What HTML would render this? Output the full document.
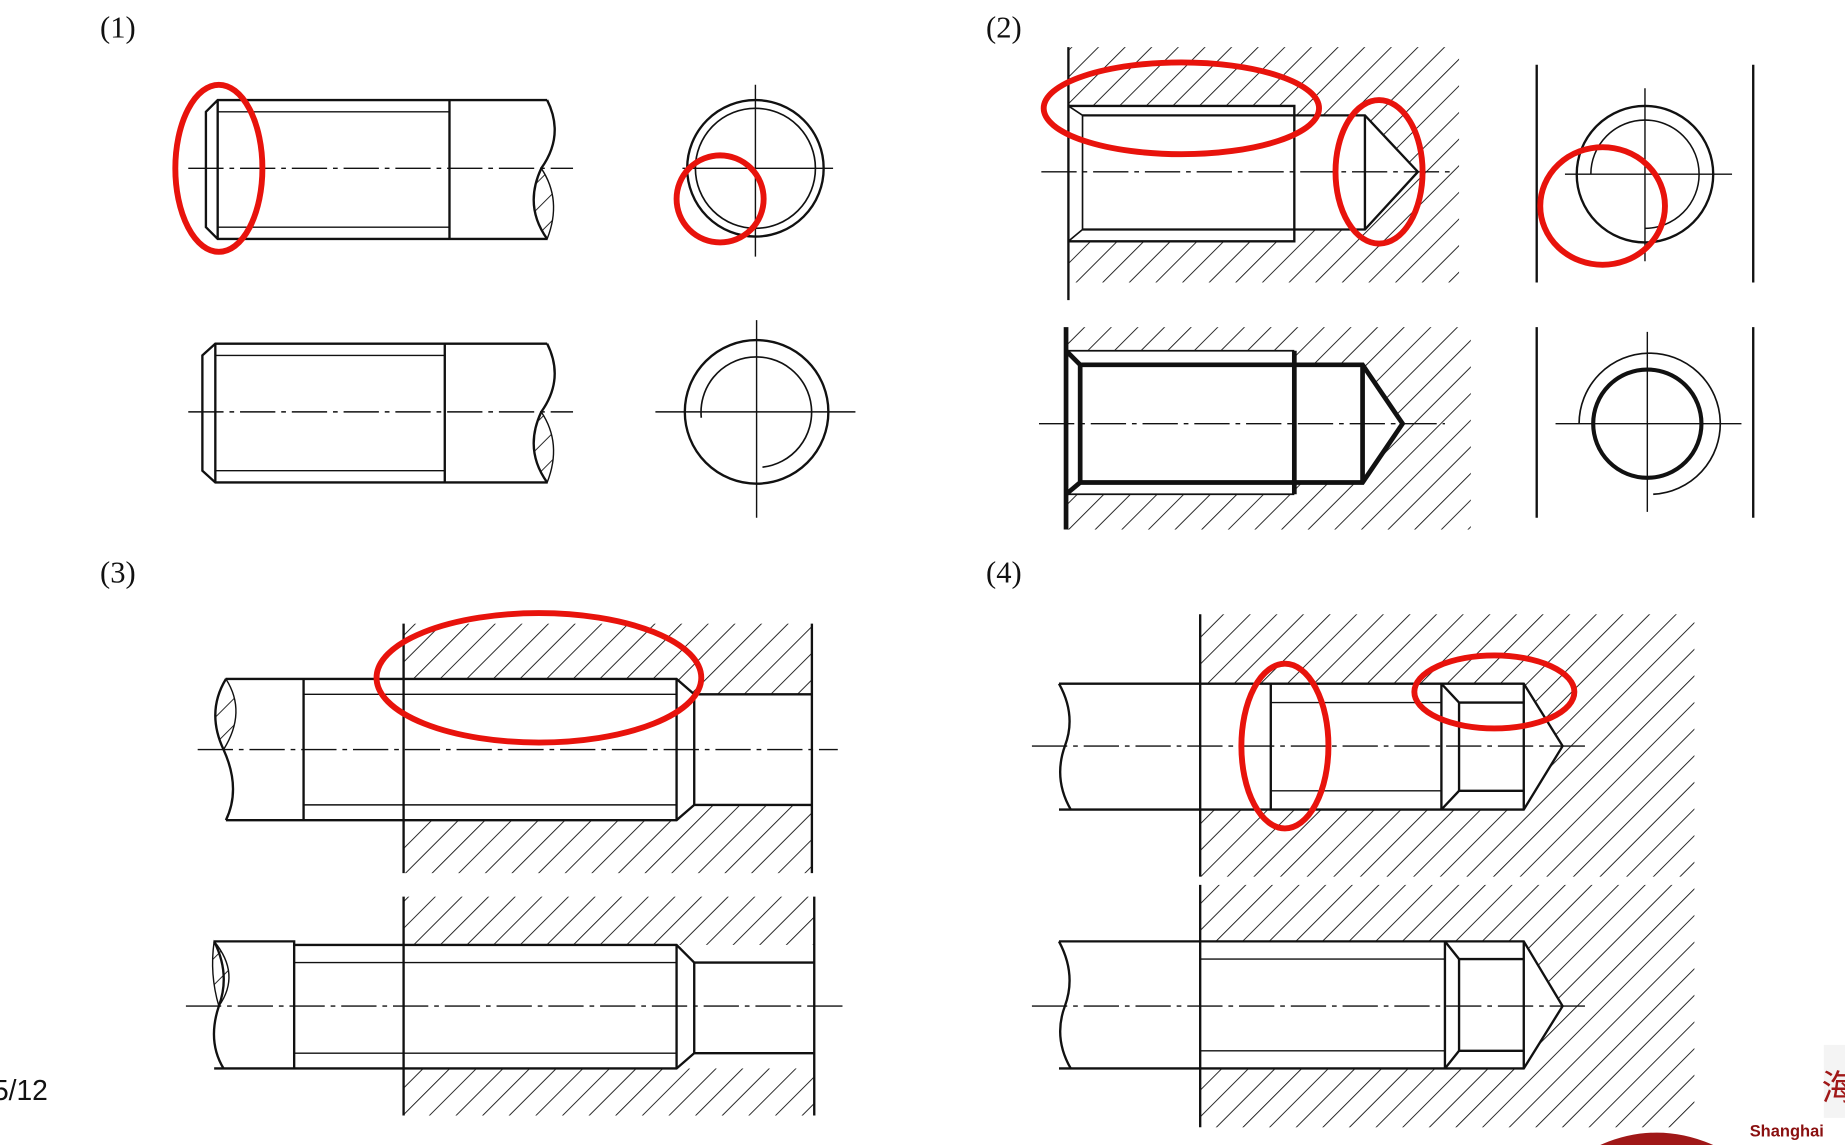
<!DOCTYPE html>
<html><head><meta charset="utf-8"><style>
html,body{margin:0;padding:0;background:#fff;}
svg{display:block;}
text{font-family:"Liberation Serif",serif;}
</style></head><body>
<svg width="1845" height="1145" viewBox="0 0 1568 973" xmlns="http://www.w3.org/2000/svg">
<defs>
<pattern id="h" patternUnits="userSpaceOnUse" width="16" height="16" patternTransform="rotate(45)">
<line x1="0" y1="0" x2="0" y2="16" stroke="#111" stroke-width="1.5"/>
</pattern>
</defs>
<rect width="1568" height="973" fill="#fff"/>
<g fill="none" stroke="#111" stroke-width="2">

<text x="85" y="32" font-size="26" fill="#111" stroke="none">(1)</text>
<g>
<path d="M465,85 H185 L175,95 V193 L185,203 H465"/>
<line x1="185" y1="85" x2="185" y2="203"/>
<line x1="185" y1="95" x2="382" y2="95" stroke-width="1.2"/>
<line x1="185" y1="193" x2="382" y2="193" stroke-width="1.2"/>
<line x1="382" y1="85" x2="382" y2="203"/>
<path d="M465,85 Q480,115 460,143 Q445,175 465,203"/>
<path d="M460,143 Q478,170 465,203 Q445,175 460,143Z" fill="url(#h)" stroke-width="1.2"/>
<line x1="160" y1="143" x2="487" y2="143" stroke-width="1.2" stroke-dasharray="30,5,4,5"/>
</g>
<g>
<circle cx="642" cy="143" r="58"/><circle cx="642" cy="143" r="51" stroke-width="1.4"/>
<line x1="580" y1="143" x2="708" y2="143" stroke-width="1.2"/>
<line x1="642" y1="72" x2="642" y2="218" stroke-width="1.2"/>
</g>
<g>
<path d="M465,292 H183 L172,302 V400 L183,410 H465"/>
<line x1="183" y1="292" x2="183" y2="410"/>
<line x1="183" y1="302" x2="378" y2="302" stroke-width="1.2"/>
<line x1="183" y1="400" x2="378" y2="400" stroke-width="1.2"/>
<line x1="378" y1="292" x2="378" y2="410"/>
<path d="M465,292 Q480,322 460,350 Q445,382 465,410"/>
<path d="M460,350 Q478,377 465,410 Q445,382 460,350Z" fill="url(#h)" stroke-width="1.2"/>
<line x1="160" y1="350" x2="487" y2="350" stroke-width="1.2" stroke-dasharray="30,5,4,5"/>
</g>
<g>
<circle cx="643" cy="350" r="61"/>
<path d="M596,355 A47,47 0 1 1 648,397" stroke-width="1.4"/>
<line x1="557" y1="350" x2="727" y2="350" stroke-width="1.2"/>
<line x1="643" y1="272" x2="643" y2="440" stroke-width="1.2"/>
</g>

<text x="838" y="32" font-size="26" fill="#111" stroke="none">(2)</text>
<g>
<rect x="908" y="40" width="332" height="200" fill="url(#h)" stroke="none"/>
<path d="M908,90 H1100 V98 H1160 L1205,146 L1160,195 H1100 V205 H908Z" fill="#fff" stroke="none"/>
<line x1="908" y1="40" x2="908" y2="255"/>
<path d="M908,90 H1100 V205 H908"/>
<path d="M908,90 L920,98 V195 L908,205" stroke-width="1.4"/>
<path d="M920,98 H1160 L1205,146 L1160,195 H920" />
<line x1="1160" y1="98" x2="1160" y2="195"/>
<line x1="885" y1="146" x2="1232" y2="146" stroke-width="1.2" stroke-dasharray="30,5,4,5"/>
</g>
<g>
<line x1="1306" y1="55" x2="1306" y2="240"/><line x1="1490" y1="55" x2="1490" y2="240"/>
<circle cx="1398" cy="148" r="58"/>
<path d="M1352,148 A46,46 0 1 1 1398,194" stroke-width="1.3"/>
<line x1="1330" y1="148" x2="1472" y2="148" stroke-width="1.2"/>
<line x1="1398" y1="75" x2="1398" y2="222" stroke-width="1.2"/>
</g>
<g>
<rect x="906" y="278" width="344" height="172" fill="url(#h)" stroke="none"/>
<path d="M906,298 H1100 V310 H1158 L1192,360 L1158,410 H1100 V420 H906Z" fill="#fff" stroke="none"/>
<line x1="906" y1="278" x2="906" y2="450" stroke-width="4"/>
<path d="M906,298 H1100 M906,420 H1100" stroke-width="1.5"/>
<path d="M906,298 L918,310 V410 L906,420" stroke-width="4"/>
<path d="M918,310 H1158 L1192,360 L1158,410 H918" stroke-width="4"/>
<line x1="1100" y1="298" x2="1100" y2="420" stroke-width="4"/>
<line x1="1158" y1="310" x2="1158" y2="410" stroke-width="4"/>
<line x1="883" y1="360" x2="1228" y2="360" stroke-width="1.2" stroke-dasharray="30,5,4,5"/>
</g>
<g>
<line x1="1306" y1="278" x2="1306" y2="440"/><line x1="1490" y1="278" x2="1490" y2="440"/>
<circle cx="1400" cy="360" r="46" stroke-width="3.5"/>
<path d="M1342,360 A60,60 0 1 1 1405,420" stroke-width="1.4"/>
<line x1="1322" y1="360" x2="1480" y2="360" stroke-width="1.2"/>
<line x1="1400" y1="282" x2="1400" y2="435" stroke-width="1.2"/>
</g>

<text x="85" y="495" font-size="26" fill="#111" stroke="none">(3)</text>
<g>
<rect x="343" y="530" width="347" height="212" fill="url(#h)" stroke="none"/>
<path d="M343,577 H575 L590,590 H690 V684 H590 L575,697 H343Z" fill="#fff" stroke="none"/>
<line x1="343" y1="530" x2="343" y2="742"/><line x1="690" y1="530" x2="690" y2="742"/>
<path d="M192,577 H575 L590,590 H690 M192,697 H575 L590,684 H690"/>
<line x1="258" y1="577" x2="258" y2="697"/>
<line x1="258" y1="590" x2="575" y2="590" stroke-width="1.2"/>
<line x1="258" y1="684" x2="575" y2="684" stroke-width="1.2"/>
<line x1="575" y1="577" x2="575" y2="697"/><line x1="590" y1="590" x2="590" y2="684"/>
<path d="M192,577 Q175,605 190,637 Q205,670 192,697"/>
<path d="M192,577 Q210,605 190,637 Q175,605 192,577Z" fill="url(#h)" stroke-width="1.2"/>
<line x1="168" y1="637" x2="712" y2="637" stroke-width="1.2" stroke-dasharray="30,5,4,5"/>
</g>
<g>
<rect x="343" y="762" width="349" height="186" fill="url(#h)" stroke="none"/>
<rect x="250" y="803" width="442" height="105" fill="#fff" stroke="none"/>
<line x1="343" y1="762" x2="343" y2="948"/>
<path d="M182,800 H250 V803 H575 L590,818 H692 M182,908 H575 L590,895 H692"/>
<line x1="250" y1="803" x2="250" y2="908"/>
<line x1="250" y1="818" x2="575" y2="818" stroke-width="1.2"/>
<line x1="250" y1="895" x2="575" y2="895" stroke-width="1.2"/>
<line x1="575" y1="803" x2="575" y2="908"/><line x1="590" y1="818" x2="590" y2="895"/>
<line x1="692" y1="762" x2="692" y2="948"/>
<path d="M182,800 Q196,828 186,855 Q176,885 190,908"/>
<path d="M182,800 Q205,828 186,855 Q178,828 182,800Z" fill="url(#h)" stroke-width="1.2"/>
<line x1="158" y1="855" x2="720" y2="855" stroke-width="1.2" stroke-dasharray="30,5,4,5"/>
</g>

<text x="838" y="495" font-size="26" fill="#111" stroke="none">(4)</text>
<g>
<rect x="1020" y="522" width="420" height="223" fill="url(#h)" stroke="none"/>
<path d="M1020,581 H1295 L1328,634 L1295,688 H1020Z" fill="#fff" stroke="none"/>
<line x1="1020" y1="522" x2="1020" y2="745"/>
<path d="M900,581 H1295 L1328,634 L1295,688 H900"/>
<path d="M900,581 Q915,608 905,634 Q895,662 910,688"/>
<line x1="1080" y1="581" x2="1080" y2="688"/>
<line x1="1080" y1="597" x2="1225" y2="597" stroke-width="1.2"/>
<line x1="1080" y1="672" x2="1225" y2="672" stroke-width="1.2"/>
<path d="M1225,581 L1240,597 H1295 M1225,688 L1240,672 H1295"/>
<line x1="1225" y1="581" x2="1225" y2="688"/><line x1="1240" y1="597" x2="1240" y2="672"/>
<line x1="1295" y1="581" x2="1295" y2="688"/>
<line x1="877" y1="634" x2="1348" y2="634" stroke-width="1.2" stroke-dasharray="30,5,4,5"/>
</g>
<g>
<rect x="1020" y="752" width="420" height="206" fill="url(#h)" stroke="none"/>
<path d="M1020,800 H1295 L1328,855 L1295,908 H1020Z" fill="#fff" stroke="none"/>
<line x1="1020" y1="752" x2="1020" y2="958"/>
<path d="M900,800 H1295 L1328,855 L1295,908 H900"/>
<path d="M900,800 Q915,828 905,855 Q895,882 910,908"/>
<line x1="1020" y1="815" x2="1228" y2="815" stroke-width="1.2"/>
<line x1="1020" y1="893" x2="1228" y2="893" stroke-width="1.2"/>
<path d="M1228,800 L1240,815 H1295 M1228,908 L1240,893 H1295"/>
<line x1="1228" y1="800" x2="1228" y2="908"/><line x1="1240" y1="815" x2="1240" y2="893"/>
<line x1="1295" y1="800" x2="1295" y2="908"/>
<line x1="877" y1="855" x2="1348" y2="855" stroke-width="1.2" stroke-dasharray="30,5,4,5"/>
</g>
</g>

<g fill="none" stroke="#e8130c" stroke-width="5">
<ellipse cx="186" cy="143" rx="37" ry="71"/>
<ellipse cx="612" cy="169" rx="37" ry="37"/>
<ellipse cx="1004" cy="92" rx="117" ry="39"/>
<ellipse cx="1172" cy="146" rx="37" ry="61"/>
<ellipse cx="1362" cy="175" rx="53" ry="50"/>
<ellipse cx="458" cy="576" rx="138" ry="55"/>
<ellipse cx="1092" cy="634" rx="37" ry="70"/>
<ellipse cx="1270" cy="588" rx="68" ry="31"/>
</g>

<text x="-6" y="935" font-size="24" fill="#111" style="font-family:'Liberation Sans',sans-serif">5/12</text>
<g>
<rect x="1550" y="888" width="18" height="62" fill="#f4f4f4"/>
<text x="1548" y="935" font-size="30" fill="#a01818" style="font-family:'Noto Sans CJK SC',sans-serif">海</text>
<path d="M1360,973 Q1408,952 1456,973Z" fill="#a01818"/>
<text x="1487" y="966" font-size="14" font-weight="bold" fill="#8a1010" style="font-family:'Liberation Sans',sans-serif">Shanghai</text>
</g>
</svg>
</body></html>
